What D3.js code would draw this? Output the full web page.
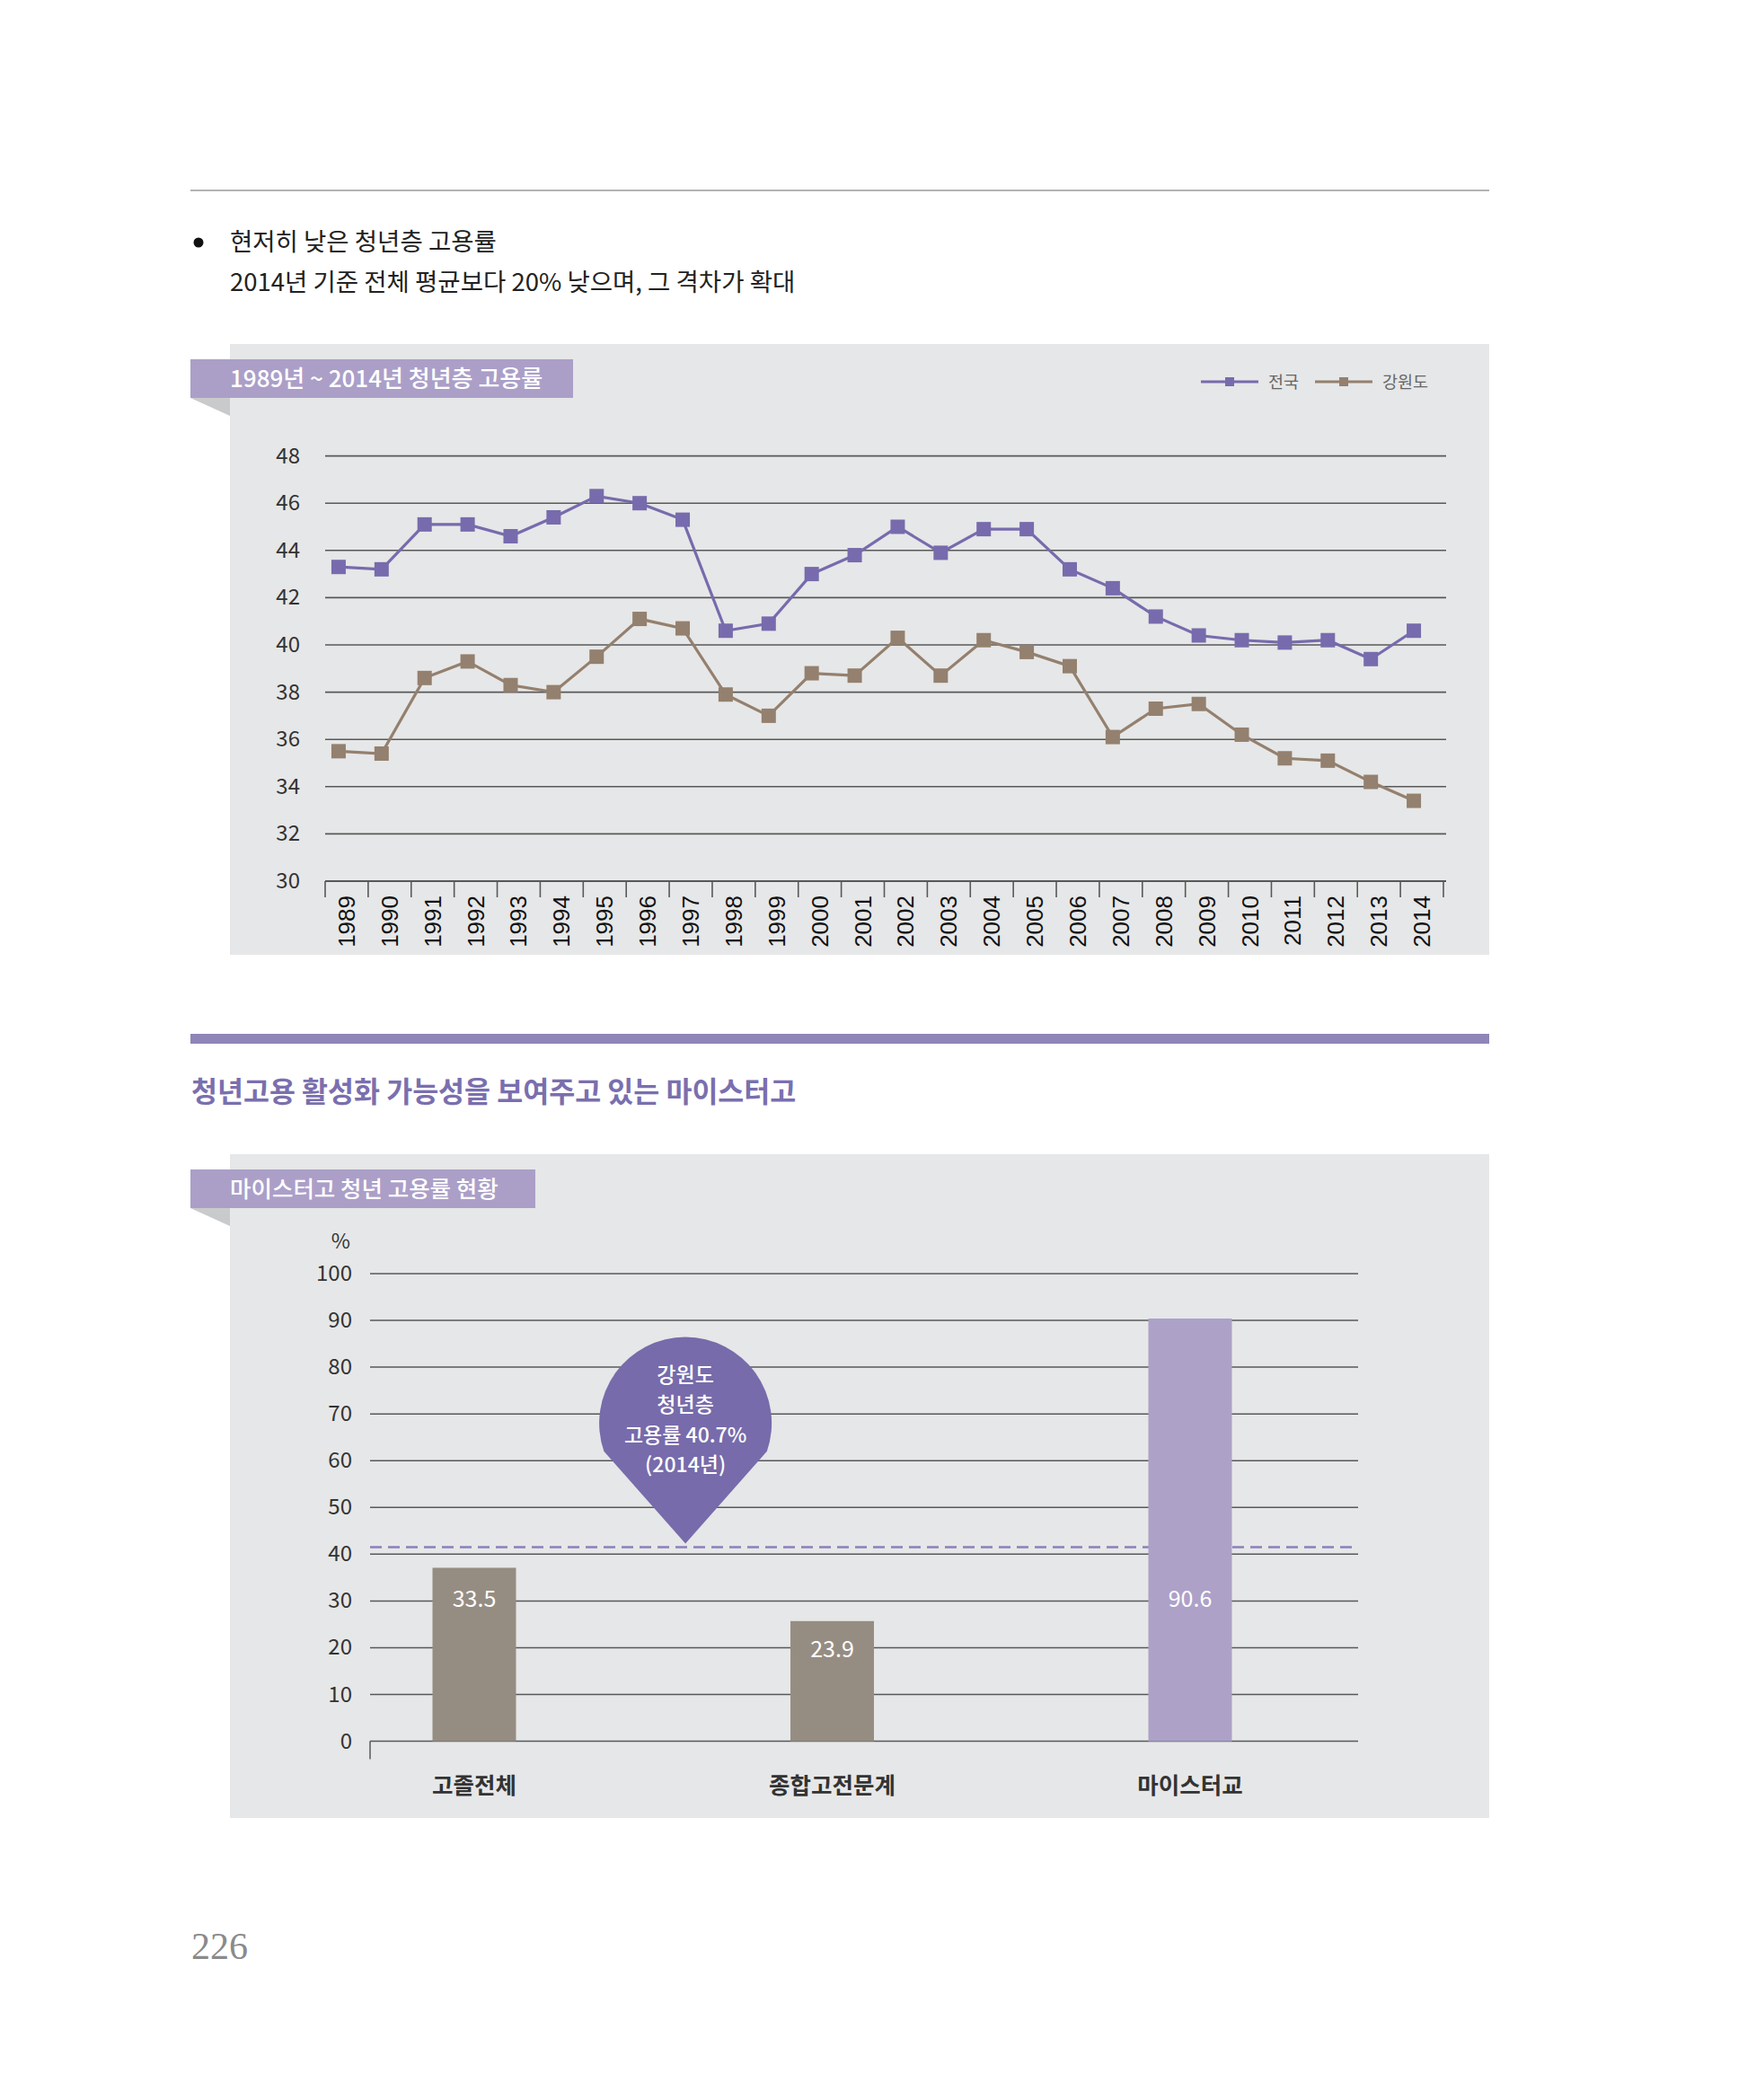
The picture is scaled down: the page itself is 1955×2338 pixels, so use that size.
<!DOCTYPE html>
<html><head><meta charset="utf-8">
<script src="https://cdn.jsdelivr.net/npm/d3@7"></script>
<style>body{margin:0;background:#fff}svg{display:block}</style>
</head><body>
<svg id="page" width="1955" height="2338"></svg>
<script>
// ---------- DATA ----------
const years = [1989,1990,1991,1992,1993,1994,1995,1996,1997,1998,1999,2000,2001,2002,2003,2004,2005,2006,2007,2008,2009,2010,2011,2012,2013,2014];
const national = [43.3,43.2,45.1,45.1,44.6,45.4,46.3,46.0,45.3,40.6,40.9,43.0,43.8,45.0,43.9,44.9,44.9,43.2,42.4,41.2,40.4,40.2,40.1,40.2,39.4,40.6];
const gangwon  = [35.5,35.4,38.6,39.3,38.3,38.0,39.5,41.1,40.7,37.9,37.0,38.8,38.7,40.3,38.7,40.2,39.7,39.1,36.1,37.3,37.5,36.2,35.2,35.1,34.2,33.4];
const seriesNames = ["전국","강원도"];
const lineTicks = [30,32,34,36,38,40,42,44,46,48];

const barCategories = ["고졸전체","종합고전문계","마이스터교"];
const barValues = [37.1,25.7,90.4];          // bar heights as drawn
const barLabels = ["33.5","23.9","90.6"];     // printed value labels
const barTicks = [0,10,20,30,40,50,60,70,80,90,100];
const refValue = 41.5;
const calloutLines = ["강원도","청년층","고용률 40.7%","(2014년)"];

const bulletLines = ["현저히 낮은 청년층 고용률","2014년 기준 전체 평균보다 20% 낮으며, 그 격차가 확대"];
const chart1Title = "1989년 ~ 2014년 청년층 고용률";
const sectionTitle = "청년고용 활성화 가능성을 보여주고 있는 마이스터고";
const chart2Title = "마이스터고 청년 고용률 현황";
const pageNumber = "226";

// ---------- STYLE ----------
const KR = "'Noto Sans CJK KR','Noto Sans',sans-serif";
const cPurple = "#776bad", cBrown = "#94806e", cPanel = "#e6e7e8", cTab = "#ab9fc8", cGrid = "#585858";

const svg = d3.select("#page");

// top rule
svg.append("line").attr("x1",212).attr("x2",1658).attr("y1",212).attr("y2",212).attr("stroke","#9a9a9a").attr("stroke-width",1.5);
// bullet
svg.append("circle").attr("cx",221).attr("cy",270).attr("r",5.5).attr("fill","#111");
svg.selectAll("text.bul").data(bulletLines).join("text").attr("class","bul")
  .attr("x",256).attr("y",(d,i)=>279+i*45).attr("font-family",KR).attr("font-size",27.5)
  .attr("fill","#222").text(d=>d);

// ---------- panel helper ----------
function panel(y0,y1,tabY,tabW,title,fs){
  svg.append("rect").attr("x",256).attr("y",y0).attr("width",1402).attr("height",y1-y0).attr("fill",cPanel);
  svg.append("path").attr("d",`M212,${tabY+43} L256,${tabY+43} L256,${tabY+63} Z`).attr("fill","#c9cacc");
  svg.append("rect").attr("x",212).attr("y",tabY).attr("width",tabW).attr("height",43).attr("fill",cTab);
  svg.append("text").attr("x",256).attr("y",tabY+31).attr("font-family",KR).attr("font-size",fs)
    .attr("font-weight",500).attr("fill","#fff").text(title);
}

// ---------- CHART 1 ----------
panel(383,1063,400,426,chart1Title,26);

const x1 = d3.scaleBand().domain(years).range([362,1607]);
const y1 = d3.scaleLinear().domain([30,48]).range([981,507.6]);
const g1 = svg.append("g");

g1.selectAll("line.grid").data(lineTicks.filter(t=>t>30)).join("line").attr("class","grid")
  .attr("x1",362).attr("x2",1610).attr("y1",d=>y1(d)).attr("y2",d=>y1(d))
  .attr("stroke",cGrid).attr("stroke-width",1.6);
// x axis
g1.append("g").attr("transform",`translate(0,${y1(30)})`)
  .call(d3.axisBottom(x1).tickSize(0).tickFormat(""))
  .call(g=>g.select(".domain").attr("stroke",cGrid).attr("stroke-width",1.8).attr("d",`M362,0H1610`));
const bounds = years.map((d,i)=>x1(d)).concat([x1(years[years.length-1])+x1.step()]);
g1.selectAll("line.tk").data(bounds).join("line").attr("class","tk")
  .attr("x1",d=>d).attr("x2",d=>d).attr("y1",y1(30)).attr("y2",y1(30)+18)
  .attr("stroke",cGrid).attr("stroke-width",1.6);
// y labels
g1.selectAll("text.yl").data(lineTicks).join("text").attr("class","yl")
  .attr("x",334).attr("y",d=>y1(d)+8).attr("text-anchor","end")
  .attr("font-family",KR).attr("font-size",24).attr("fill","#333").text(d=>d);
// x labels
g1.selectAll("text.xl").data(years).join("text").attr("class","xl")
  .attr("transform",d=>`translate(${x1(d)+x1.bandwidth()/2+9},${y1(30)+16}) rotate(-90)`)
  .attr("text-anchor","end").attr("font-family","'Liberation Sans',Arial,sans-serif")
  .attr("font-size",26).attr("fill","#111").text(d=>d);

const px = d => x1(d)+x1.bandwidth()/2-9;
const line = d3.line().x(d=>px(d[0])).y(d=>y1(d[1]));
[[gangwon,cBrown],[national,cPurple]].forEach(([vals,col])=>{
  const pts = years.map((yr,i)=>[yr,vals[i]]);
  g1.append("path").attr("d",line(pts)).attr("fill","none").attr("stroke",col).attr("stroke-width",3.2);
  g1.selectAll(null).data(pts).join("rect")
    .attr("x",d=>px(d[0])-8).attr("y",d=>y1(d[1])-8).attr("width",16).attr("height",16).attr("fill",col);
});
// legend
const lg = svg.append("g");
[[cPurple,1337,seriesNames[0]],[cBrown,1464,seriesNames[1]]].forEach(([col,x0,name])=>{
  lg.append("line").attr("x1",x0).attr("x2",x0+64).attr("y1",425).attr("y2",425).attr("stroke",col).attr("stroke-width",3);
  lg.append("rect").attr("x",x0+27).attr("y",420).attr("width",10).attr("height",10).attr("fill",col);
  lg.append("text").attr("x",x0+75).attr("y",432).attr("font-family",KR).attr("font-size",18.5).attr("fill","#666").text(name);
});

// ---------- section heading ----------
svg.append("rect").attr("x",212).attr("y",1151).attr("width",1446).attr("height",11).attr("fill","#9085b8");
svg.append("text").attr("x",213).attr("y",1227).attr("font-family",KR).attr("font-size",31.5)
  .attr("font-weight",700).attr("fill","#7a6fae").text(sectionTitle);

// ---------- CHART 2 ----------
panel(1285,2024,1302,384,chart2Title,25.5);
const y2 = d3.scaleLinear().domain([0,100]).range([1938.6,1418]);
const x2 = d3.scalePoint().domain(barCategories).range([528,1325]);
const g2 = svg.append("g");
g2.selectAll("line.grid").data(barTicks).join("line")
  .attr("x1",412).attr("x2",1512).attr("y1",d=>y2(d)).attr("y2",d=>y2(d))
  .attr("stroke",cGrid).attr("stroke-width",1.5);
g2.append("line").attr("x1",412).attr("x2",412).attr("y1",y2(0)).attr("y2",y2(0)+20).attr("stroke",cGrid).attr("stroke-width",1.5);
g2.selectAll("text.yl").data(barTicks).join("text")
  .attr("x",392).attr("y",d=>y2(d)+8).attr("text-anchor","end")
  .attr("font-family",KR).attr("font-size",24).attr("fill","#333").text(d=>d);
g2.append("text").attr("x",390).attr("y",1390).attr("text-anchor","end")
  .attr("font-family",KR).attr("font-size",23).attr("fill","#333").text("%");
// reference dashed line
g2.append("line").attr("x1",412).attr("x2",1512).attr("y1",y2(refValue)).attr("y2",y2(refValue))
  .attr("stroke","#8a80bb").attr("stroke-width",2.6).attr("stroke-dasharray","13,7");
// bars
const bw = 93;
const barColors = ["#968d82","#968d82","#ada1c8"];
g2.selectAll("rect.bar").data(barCategories).join("rect")
  .attr("x",d=>x2(d)-bw/2).attr("y",(d,i)=>y2(barValues[i])).attr("width",bw)
  .attr("height",(d,i)=>y2(0)-y2(barValues[i])).attr("fill",(d,i)=>barColors[i]);
g2.selectAll("text.bl").data(barCategories).join("text")
  .attr("x",d=>x2(d)).attr("y",(d,i)=>Math.max(y2(barValues[i])+31,y2(30.5))+9)
  .attr("text-anchor","middle").attr("font-family",KR).attr("font-size",25).attr("fill","#fff")
  .text((d,i)=>barLabels[i]);
g2.selectAll("text.cl").data(barCategories).join("text")
  .attr("x",d=>x2(d)).attr("y",1997).attr("text-anchor","middle")
  .attr("font-family",KR).attr("font-size",25.5).attr("font-weight",700).attr("fill","#333").text(d=>d);
// callout pin
const cx = x2(barCategories[0]) + 0.59*(x2(barCategories[1])-x2(barCategories[0]));
const tipY = y2(refValue)-4, r = 96, cy = tipY-134, phi = 19*Math.PI/180;
const lx = cx - r*Math.cos(phi), rx = cx + r*Math.cos(phi), ky = cy + r*Math.sin(phi);
g2.append("path").attr("d",`M${cx},${tipY} L${lx},${ky} A${r},${r} 0 1 1 ${rx},${ky} Z`).attr("fill","#776bab");
g2.selectAll("text.co").data(calloutLines).join("text")
  .attr("x",cx).attr("y",(d,i)=>cy-54+i*33.5+8).attr("text-anchor","middle")
  .attr("font-family",KR).attr("font-size",23).attr("font-weight",500).attr("fill","#fff").text(d=>d);

// page number
svg.append("text").attr("x",213).attr("y",2181).attr("font-family","'Liberation Serif',serif")
  .attr("font-size",42).attr("fill","#8a8a8a").text(pageNumber);
</script>
</body></html>
